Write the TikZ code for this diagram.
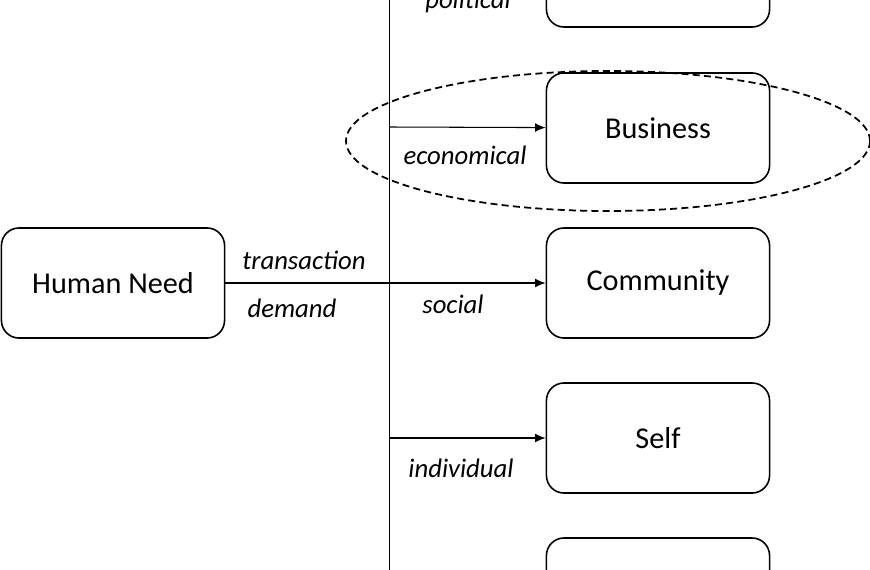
\documentclass[tikz,border=0pt]{standalone}
\usepackage{fontspec}
\setmainfont{Carlito}
\usetikzlibrary{arrows.meta, positioning, shapes}
\tikzset{
  box/.style={draw, rounded corners=5pt, line width=0.45pt, minimum width=2.23cm, minimum height=1.1cm, font=\fontsize{8.6}{10}\selectfont},
  lbl/.style={font=\fontsize{7.6}{9}\selectfont\itshape},
  link/.style={line width=0.3pt, -{Latex[length=3pt,width=2.5pt]}}
}
\begin{document}
\begin{tikzpicture}[x=0.01cm, y=-0.01cm]
  \useasboundingbox (0,0) rectangle (870,570);
  % boxes
  \node[box] (need) at (113,283) {Human Need};
  \node[box] (polit) at (658,-28) {};
  \node[box] (biz) at (658,128) {Business};
  \node[box] (comm) at (658,283) {Community};
  \node[box] (self) at (658,438) {Self};
  \node[box] (nat) at (658,593) {};

  % trunk line
  \coordinate (top) at (389.5,-60);
  \coordinate (bot) at (389.5,620);
  \draw[line width=0.25pt] (top) -- (bot);

  % branches
  \draw[link] (need) -- (comm);
  \draw[link] (389,-28) -- (polit);
  \draw[link] (389,127) -- (biz);
  \draw[link] (389,438) -- (self);
  \draw[link] (389,593) -- (nat);

  % labels
  \node[lbl] at (468,1) {political};
  \node[lbl] at (465,155) {economical};
  \node[lbl] at (304,260) {transaction};
  \node[lbl] at (292,308) {demand};
  \node[lbl] at (453,304) {social};
  \node[lbl] at (461,468) {individual};

  % highlight
  \draw[dash pattern=on 2pt off 1.2pt, line width=0.5pt] (608,141) ellipse [x radius=262, y radius=70];
\end{tikzpicture}
\end{document}
